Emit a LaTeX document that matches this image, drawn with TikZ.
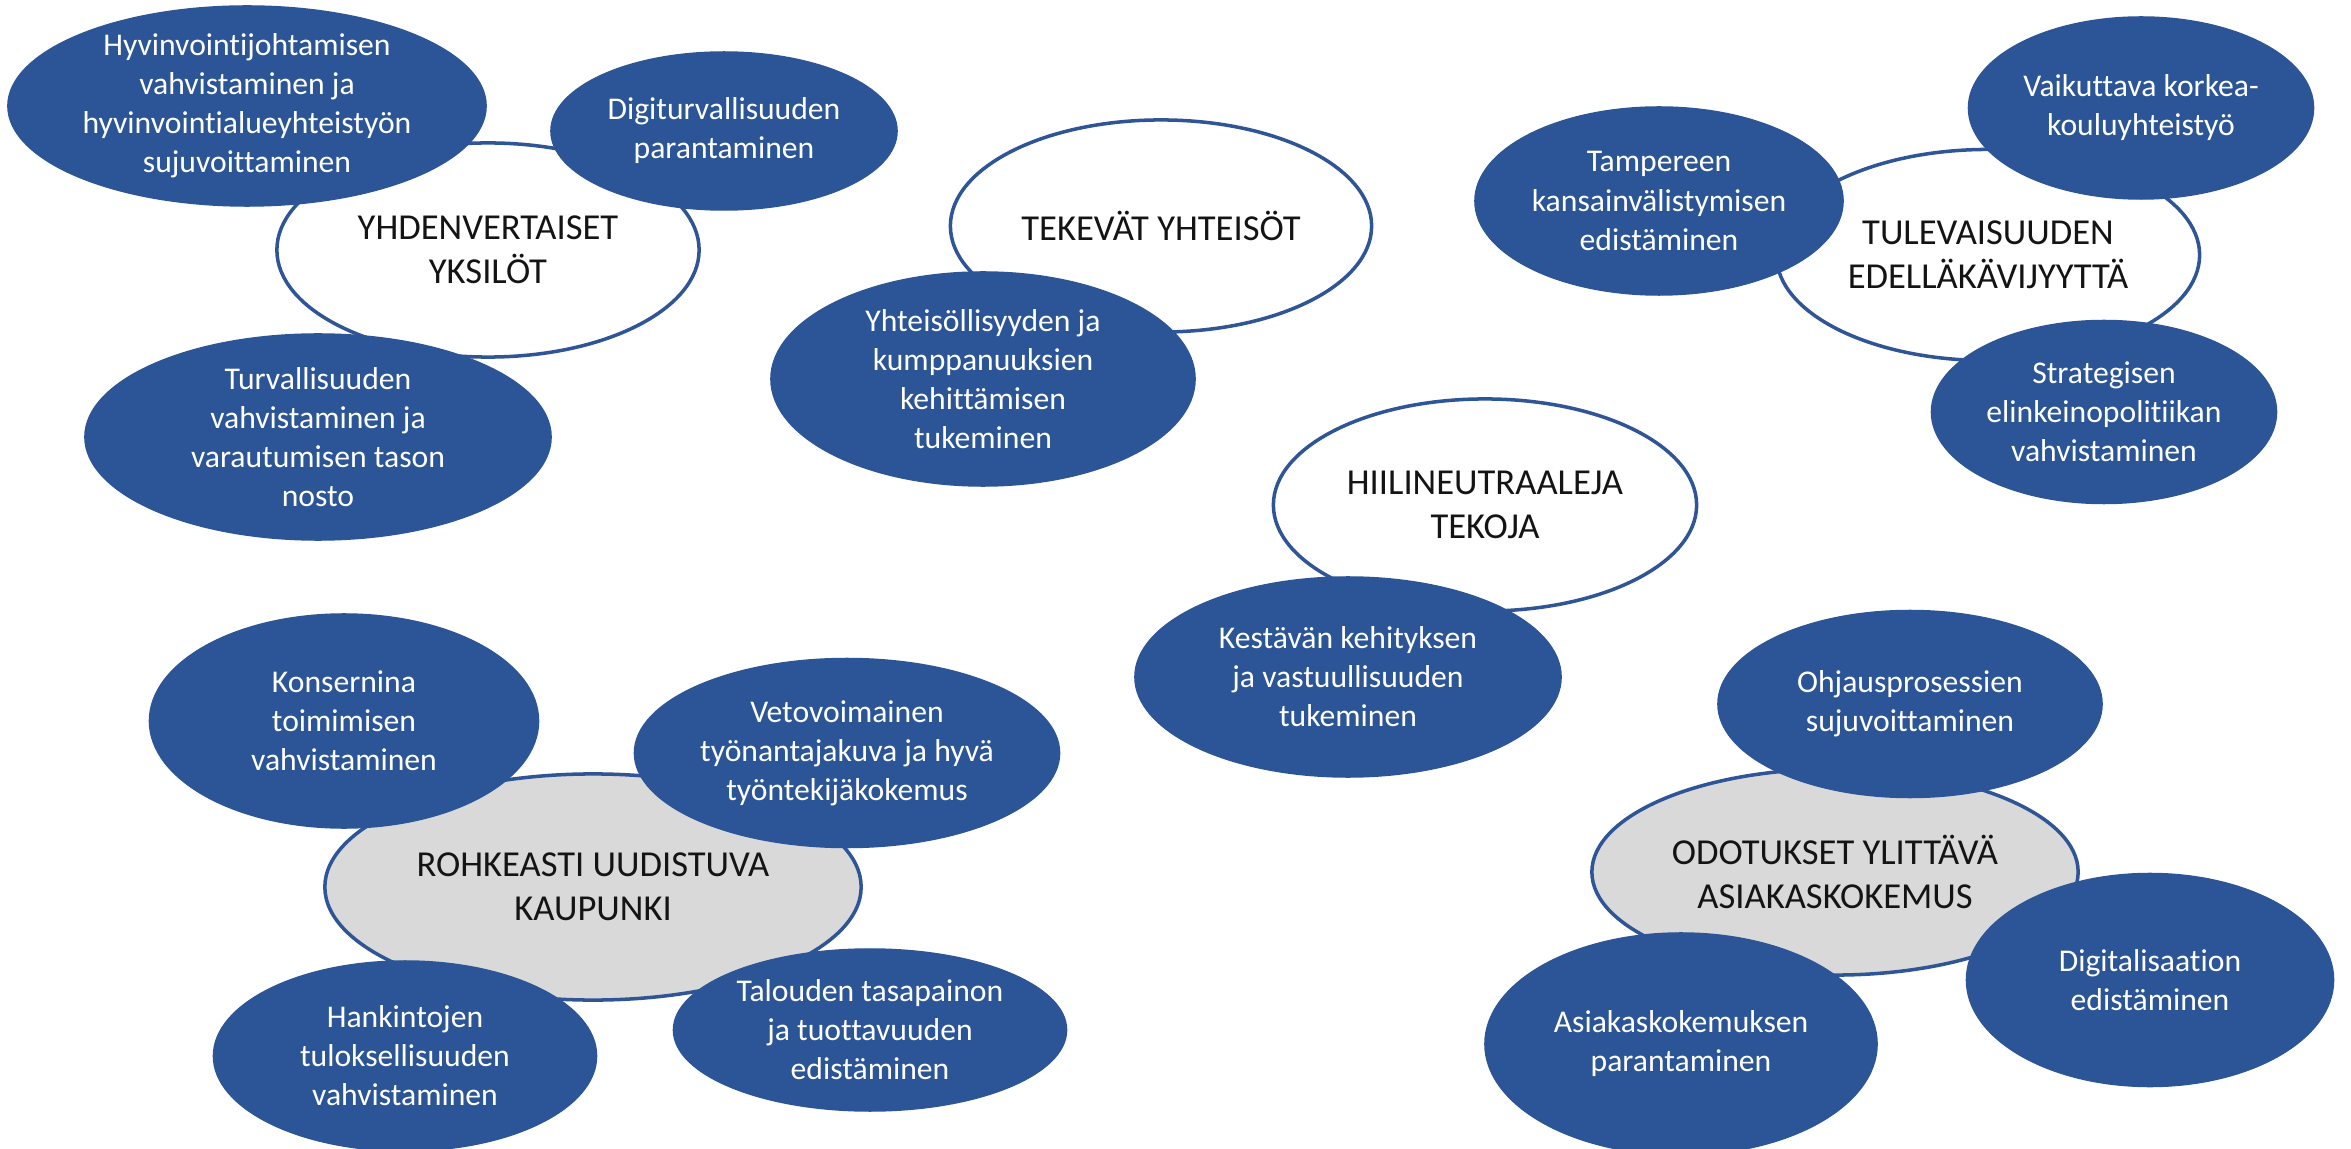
\documentclass[tikz,border=0pt]{standalone}
\usepackage{fontspec}
\setmainfont{Carlito}[Ligatures=NoCommon]
\usetikzlibrary{shapes.geometric}
\definecolor{blobblue}{HTML}{2B5597}
\definecolor{rimblue}{HTML}{2F5597}
\definecolor{hubgray}{HTML}{D9D9D9}
\definecolor{hubink}{HTML}{141414}
\tikzset{
  ell/.style 2 args={ellipse, inner sep=0pt, minimum width=#1, minimum height=#2},
  hubwhite/.style={draw=rimblue, line width=1pt, fill=white},
  hubgrey/.style={draw=rimblue, line width=1pt, fill=hubgray},
  blob/.style={fill=blobblue, draw=blobblue, line width=0.4pt},
  hubtext/.style={align=center, inner sep=0pt, text=hubink, font=\fontsize{10.4}{12.5}\selectfont},
  blobtext/.style={align=center, inner sep=0pt, text=white, font=\fontsize{9}{11.1}\selectfont}
}
\begin{document}
\begin{tikzpicture}[x=0.01cm, y=-0.01cm]
\useasboundingbox (0,0) rectangle (2351,1149);
% hubs
\node[hubwhite, ell={4.22cm}{2.14cm}] (yksi) at (488,250) {};
\node[hubwhite, ell={4.21cm}{2.12cm}] (tekevat) at (1161,226) {};
\node[hubwhite, ell={4.23cm}{2.11cm}] (tulev) at (1988,255) {};
\node[hubwhite, ell={4.23cm}{2.12cm}] (hiili) at (1485,505) {};
\node[hubgrey, ell={5.36cm}{2.26cm}] (rohk) at (593,887) {};
\node[hubgrey, ell={4.86cm}{2.06cm}] (odot) at (1835,872) {};
\node[hubtext] (yksiT) at (yksi) {YHDENVERTAISET\\YKSILÖT};
\node[hubtext] (tekevatT) at (tekevat) {TEKEVÄT YHTEISÖT};
\node[hubtext] (tulevT) at (tulev) {TULEVAISUUDEN\\EDELLÄKÄVIJYYTTÄ};
\node[hubtext] (hiiliT) at (hiili) {HIILINEUTRAALEJA\\TEKOJA};
\node[hubtext] (rohkT) at (rohk) {ROHKEASTI UUDISTUVA\\KAUPUNKI};
\node[hubtext] (odotT) at (odot) {ODOTUKSET YLITTÄVÄ\\ASIAKASKOKEMUS};
% blue ellipses
\node[blob, ell={4.78cm}{2.00cm}] (hyv) at (247,106) {};
\node[blob, ell={3.46cm}{1.58cm}] (digit) at (724,131) {};
\node[blob, ell={4.66cm}{2.06cm}] (turv) at (318,437) {};
\node[blob, ell={4.24cm}{2.14cm}] (yhteis) at (983,379) {};
\node[blob, ell={3.68cm}{1.88cm}] (tamp) at (1659,201) {};
\node[blob, ell={3.45cm}{1.82cm}] (vaik) at (2141,108) {};
\node[blob, ell={3.45cm}{1.83cm}] (strat) at (2104,412) {};
\node[blob, ell={4.26cm}{2.00cm}] (kest) at (1348,677) {};
\node[blob, ell={3.89cm}{2.14cm}] (konser) at (344,721) {};
\node[blob, ell={4.25cm}{1.89cm}] (veto) at (847,753) {};
\node[blob, ell={3.83cm}{1.90cm}] (hank) at (405,1056) {};
\node[blob, ell={3.93cm}{1.62cm}] (talou) at (870,1030) {};
\node[blob, ell={3.84cm}{1.87cm}] (ohjaus) at (1910,704) {};
\node[blob, ell={3.67cm}{2.13cm}] (digi) at (2150,980) {};
\node[blob, ell={3.92cm}{2.22cm}] (asiak) at (1681,1044) {};
% texts
\node[blobtext] (hyvT) at (hyv) {Hyvinvointijohtamisen\\vahvistaminen ja\\hyvinvointialueyhteistyön\\sujuvoittaminen};
\node[blobtext] (digitT) at (digit) {Digiturvallisuuden\\parantaminen};
\node[blobtext] (turvT) at (turv) {Turvallisuuden\\vahvistaminen ja\\varautumisen tason\\nosto};
\node[blobtext] (yhteisT) at (yhteis) {Yhteisöllisyyden ja\\kumppanuuksien\\kehittämisen\\tukeminen};
\node[blobtext] (tampT) at (tamp) {Tampereen\\kansainvälistymisen\\edistäminen};
\node[blobtext] (vaikT) at (vaik) {Vaikuttava korkea-\\kouluyhteistyö};
\node[blobtext] (stratT) at (strat) {Strategisen\\elinkeinopolitiikan\\vahvistaminen};
\node[blobtext] (kestT) at (kest) {Kestävän kehityksen\\ja vastuullisuuden\\tukeminen};
\node[blobtext] (konserT) at (konser) {Konsernina\\toimimisen\\vahvistaminen};
\node[blobtext] (vetoT) at (veto) {Vetovoimainen\\työnantajakuva ja hyvä\\työntekijäkokemus};
\node[blobtext] (hankT) at (hank) {Hankintojen\\tuloksellisuuden\\vahvistaminen};
\node[blobtext] (talouT) at (talou) {Talouden tasapainon\\ja tuottavuuden\\edistäminen};
\node[blobtext] (ohjausT) at (ohjaus) {Ohjausprosessien\\sujuvoittaminen};
\node[blobtext] (digiT) at (digi) {Digitalisaation\\edistäminen};
\node[blobtext] (asiakT) at (asiak) {Asiakaskokemuksen\\parantaminen};
\end{tikzpicture}
\end{document}
